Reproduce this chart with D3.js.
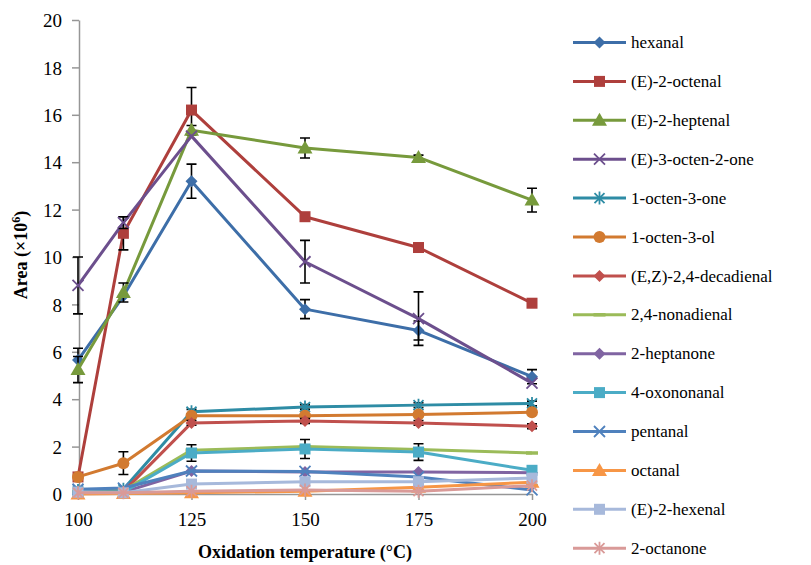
<!DOCTYPE html>
<html><head><meta charset="utf-8">
<script src="https://cdn.jsdelivr.net/npm/d3@7"></script>
<style>body{margin:0;background:#fff}svg{display:block}</style>
</head><body><svg id="c" width="811" height="565"></svg>
<script>
const temps = [100, 110, 125, 150, 175, 200];
const xTicks = [100, 125, 150, 175, 200];
const yTicks = [0, 2, 4, 6, 8, 10, 12, 14, 16, 18, 20];
const names = ["hexanal","(E)-2-octenal","(E)-2-heptenal","(E)-3-octen-2-one","1-octen-3-one","1-octen-3-ol","(E,Z)-2,4-decadienal","2,4-nonadienal","2-heptanone","4-oxononanal","pentanal","octanal","(E)-2-hexenal","2-octanone"];
const hexanal = [5.65, 8.35, 13.2, 7.8, 6.9, 4.95];
const octenal = [0.72, 11.0, 16.2, 11.7, 10.4, 8.05];
const heptenal = [5.25, 8.5, 15.35, 14.6, 14.2, 12.4];
const octen2one = [8.8, 11.45, 15.1, 9.8, 7.4, 4.68];
const octen3one = [0.15, 0.2, 3.47, 3.67, 3.75, 3.82];
const octen3ol = [0.72, 1.3, 3.3, 3.3, 3.35, 3.45];
const decadienal = [0.08, 0.1, 3.0, 3.08, 3.0, 2.86];
const nonadienal = [0.1, 0.15, 1.85, 2.0, 1.88, 1.73];
const heptanone = [0.08, 0.08, 0.97, 0.93, 0.93, 0.9];
const oxononanal = [0.08, 0.08, 1.73, 1.9, 1.77, 1.0];
const pentanal = [0.2, 0.25, 0.97, 0.95, 0.72, 0.17];
const octanal = [0.0, 0.02, 0.05, 0.12, 0.28, 0.5];
const hexenal = [0.08, 0.05, 0.42, 0.52, 0.52, 0.67];
const octanone = [0.05, 0.05, 0.12, 0.17, 0.12, 0.35];
const errHexanal = [0.5, 0, 0.72, 0.4, 0.4, 0.3];
const errOctenal = [0, 0.7, 0.95, 0, 0.15, 0];
const errHeptenal = [0.55, 0.4, 0.2, 0.42, 0.1, 0.5];
const errOcten2one = [1.2, 0.25, 0, 0.9, 1.13, 0];
const errOcten3one = [0, 0, 0.1, 0.1, 0.1, 0.1];
const errOcten3ol = [0, 0.48, 0, 0, 0, 0];
const errDecadienal = [0, 0, 0.1, 0.1, 0.1, 0.1];
const errOxononanal = [0, 0, 0.35, 0.4, 0.35, 0];
const values = [hexanal, octenal, heptenal, octen2one, octen3one, octen3ol, decadienal, nonadienal, heptanone, oxononanal, pentanal, octanal, hexenal, octanone];
const errs = [errHexanal, errOctenal, errHeptenal, errOcten2one, errOcten3one, errOcten3ol, errDecadienal, null, null, errOxononanal, null, null, null, null];
const colors = ["#3D6EA8","#AE3F3C","#779A3C","#6C4F8D","#2E8CA5","#D27A30","#C0504D","#9BBB59","#8064A2","#4BACC6","#4F81BD","#F79646","#A7B9DB","#D99A98"];
const markers = ["diamond","square","triangle","x","asterisk","circle","diamond","dash","diamond","square","x","triangle","square","asterisk"];

const svg = d3.select("#c");
const x = d3.scaleLinear().domain([100, 200]).range([78, 532]);
const y = d3.scaleLinear().domain([0, 20]).range([494, 20]);
const serif = "'Liberation Serif','Times New Roman',serif";

const xAxis = svg.append("g").attr("transform", "translate(0,494)")
  .call(d3.axisBottom(x).tickValues(xTicks).tickSize(6).tickSizeOuter(0).tickPadding(9).tickFormat(d3.format("d")));
const yAxis = svg.append("g").attr("transform", "translate(79,0)")
  .call(d3.axisLeft(y).tickValues(yTicks).tickSize(7).tickSizeOuter(0).tickPadding(10));
[xAxis, yAxis].forEach(a => {
  a.select(".domain").attr("stroke", "#969696").attr("stroke-width", 1.5);
  a.selectAll(".tick line").attr("stroke", "#969696").attr("stroke-width", 1.5);
  a.selectAll("text").attr("font-family", serif).attr("font-size", 19).attr("fill", "#000");
});
xAxis.selectAll("text").attr("dy", "0.9em");
yAxis.selectAll("text").attr("dy", "0.35em");

svg.append("text").attr("x", 305).attr("y", 558).attr("text-anchor", "middle")
  .attr("font-family", serif).attr("font-weight", "bold").attr("font-size", 18).text("Oxidation temperature (°C)");
const yt = svg.append("text").attr("transform", "translate(27,255) rotate(-90)").attr("text-anchor", "middle")
  .attr("font-family", serif).attr("font-weight", "bold").attr("font-size", 18);
yt.append("tspan").text("Area (×10");
yt.append("tspan").attr("font-size", 12).attr("dy", -7).text("6");
yt.append("tspan").attr("dy", 7).text(")");

function drawMarker(g, type, cx, cy, color) {
  const s = 6;
  if (type === "diamond") g.append("path").attr("d", `M${cx},${cy - s}L${cx + s},${cy}L${cx},${cy + s}L${cx - s},${cy}Z`).attr("fill", color);
  else if (type === "square") g.append("rect").attr("x", cx - 5.5).attr("y", cy - 5.5).attr("width", 11).attr("height", 11).attr("fill", color);
  else if (type === "triangle") g.append("path").attr("d", `M${cx},${cy - 7.5}L${cx + 7.5},${cy + 5.5}L${cx - 7.5},${cy + 5.5}Z`).attr("fill", color);
  else if (type === "circle") g.append("circle").attr("cx", cx).attr("cy", cy).attr("r", 6).attr("fill", color);
  else if (type === "x") g.append("path").attr("d", `M${cx - 5.5},${cy - 5.5}L${cx + 5.5},${cy + 5.5}M${cx - 5.5},${cy + 5.5}L${cx + 5.5},${cy - 5.5}`).attr("stroke", color).attr("stroke-width", 1.8);
  else if (type === "asterisk") g.append("path").attr("d", `M${cx - 5},${cy - 5}L${cx + 5},${cy + 5}M${cx - 5},${cy + 5}L${cx + 5},${cy - 5}M${cx},${cy - 6.5}L${cx},${cy + 6.5}`).attr("stroke", color).attr("stroke-width", 1.8);
  else if (type === "dash") g.append("path").attr("d", `M${cx - 6},${cy}L${cx + 6},${cy}`).attr("stroke", color).attr("stroke-width", 3.5);
}

const line = d3.line().x((d, i) => x(temps[i])).y(d => y(d));
values.forEach((vals, si) => {
  const g = svg.append("g");
  g.append("path").datum(vals).attr("d", line).attr("fill", "none").attr("stroke", colors[si]).attr("stroke-width", 3).attr("stroke-linejoin", "round");
  const e = errs[si];
  if (e) e.forEach((ev, i) => {
    if (!ev) return;
    const cx = x(temps[i]), y1 = y(vals[i] + ev), y0 = y(vals[i] - ev);
    g.append("path").attr("d", `M${cx},${y1}L${cx},${y0}M${cx - 5},${y1}L${cx + 5},${y1}M${cx - 5},${y0}L${cx + 5},${y0}`)
      .attr("stroke", "#000").attr("stroke-width", 1.6).attr("fill", "none");
  });
  vals.forEach((v, i) => drawMarker(g, markers[si], x(temps[i]), y(v), colors[si]));
});

const lg = svg.append("g");
names.forEach((n, i) => {
  const ly = 42.5 + i * 38.9;
  lg.append("line").attr("x1", 573).attr("x2", 626).attr("y1", ly).attr("y2", ly).attr("stroke", colors[i]).attr("stroke-width", 3);
  drawMarker(lg, markers[i], 599.5, ly, colors[i]);
  lg.append("text").attr("x", 631).attr("y", ly).attr("dy", "0.33em").attr("font-family", serif).attr("font-size", 17).text(n);
});
</script></body></html>
